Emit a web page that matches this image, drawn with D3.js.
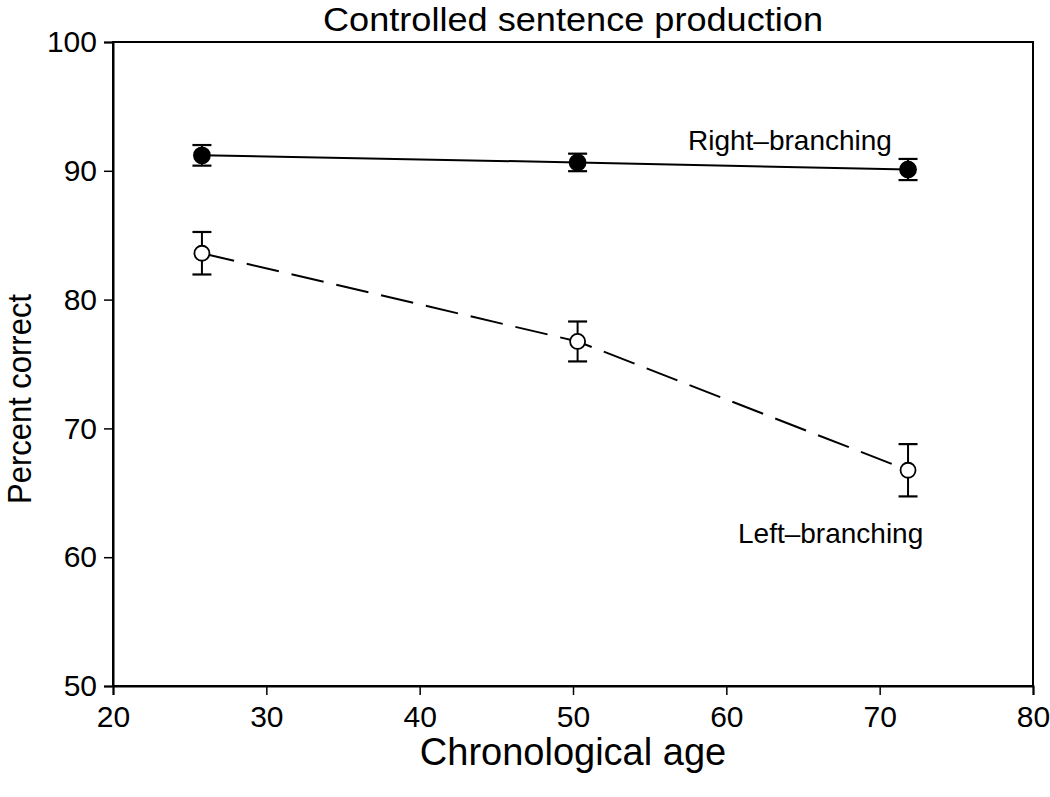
<!DOCTYPE html>
<html>
<head>
<meta charset="utf-8">
<script src="https://cdn.jsdelivr.net/npm/d3@7"></script>
<style>
  html, body { margin: 0; padding: 0; background: #fff; }
  svg { display: block; font-family: "Liberation Sans", Arial, Helvetica, sans-serif; }
</style>
</head>
<body>
<svg id="chart" width="1050" height="797"></svg>
<script>
// Data
const ages = [25.8, 50.3, 71.85];
const rightBranching = [91.2, 90.65, 90.1];
const rightErr = [0.8, 0.68, 0.82];
const leftBranching = [83.6, 76.75, 66.75];
const leftErr = [1.65, 1.55, 2.03];
const xTicks = [20, 30, 40, 50, 60, 70, 80];
const yTicks = [50, 60, 70, 80, 90, 100];
const title = "Controlled sentence production";
const xLabel = "Chronological age";
const yLabel = "Percent correct";

const svg = d3.select("#chart");
const m = {left: 113, top: 42, right: 17, bottom: 111};
const W = 1050, H = 797;
const iw = W - m.left - m.right, ih = H - m.top - m.bottom;

const x = d3.scaleLinear().domain([20, 80]).range([0, iw]);
const y = d3.scaleLinear().domain([50, 100]).range([ih, 0]);

const g = svg.append("g").attr("transform", `translate(${m.left},${m.top})`);

// frame
g.append("rect").attr("x", 0).attr("y", 0).attr("width", iw).attr("height", ih)
  .attr("fill", "none").attr("stroke", "#000").attr("stroke-width", 2);

const xAxis = g.append("g").attr("transform", `translate(0,${ih})`)
  .call(d3.axisBottom(x).tickValues(xTicks).tickSize(9).tickPadding(11).tickFormat(d3.format("d")));
const yAxis = g.append("g")
  .call(d3.axisLeft(y).tickValues(yTicks).tickSize(9).tickPadding(7).tickFormat(d3.format("d")));
[xAxis, yAxis].forEach(a => {
  a.select(".domain").attr("stroke", "#000").attr("stroke-width", 2);
  a.selectAll(".tick line").attr("stroke", "#000").attr("stroke-width", 1.5);
  a.selectAll(".tick text").attr("fill", "#000").style("font-size", "30px")
    .style("font-family", "'Liberation Sans', Arial, sans-serif");
});

// series
function drawSeries(vals, errs, filled, dashed) {
  const pts = ages.map((a, i) => ({a, v: vals[i], e: errs[i]}));
  const line = d3.line().x(d => x(d.a)).y(d => y(d.v));
  g.append("path").datum(pts).attr("d", line).attr("fill", "none")
    .attr("stroke", "#000").attr("stroke-width", 2)
    .attr("stroke-dasharray", dashed ? "33,13" : null);
  const eb = g.append("g");
  pts.forEach(d => {
    eb.append("line").attr("x1", x(d.a)).attr("x2", x(d.a))
      .attr("y1", y(d.v - d.e)).attr("y2", y(d.v + d.e)).attr("stroke", "#000").attr("stroke-width", 2);
    [d.v - d.e, d.v + d.e].forEach(v => {
      eb.append("line").attr("x1", x(d.a) - 9.5).attr("x2", x(d.a) + 9.5)
        .attr("y1", y(v)).attr("y2", y(v)).attr("stroke", "#000").attr("stroke-width", 2.2);
    });
  });
  g.append("g").selectAll("circle").data(pts).join("circle")
    .attr("cx", d => x(d.a)).attr("cy", d => y(d.v))
    .attr("r", filled ? 8 : 7.5)
    .attr("fill", filled ? "#000" : "#fff")
    .attr("stroke", "#000").attr("stroke-width", 1.8);
}
drawSeries(rightBranching, rightErr, true, false);
drawSeries(leftBranching, leftErr, false, true);

// labels
svg.append("text").attr("x", 688).attr("y", 150).text("Right–branching")
  .style("font-size", "28px").attr("fill", "#000");
svg.append("text").attr("x", 738).attr("y", 543).text("Left–branching")
  .style("font-size", "28px").attr("fill", "#000");

svg.append("text").attr("x", m.left + iw / 2).attr("y", 31).attr("text-anchor", "middle")
  .attr("textLength", 500).attr("lengthAdjust", "spacingAndGlyphs")
  .text(title).style("font-size", "34px").attr("fill", "#000");
svg.append("text").attr("x", m.left + iw / 2).attr("y", 765).attr("text-anchor", "middle")
  .text(xLabel).style("font-size", "38px").attr("fill", "#000");
svg.append("text").attr("transform", `translate(31,399) rotate(-90)`)
  .attr("text-anchor", "middle").attr("textLength", 210).attr("lengthAdjust", "spacingAndGlyphs")
  .text(yLabel).style("font-size", "33px").attr("fill", "#000");
</script>
</body>
</html>
